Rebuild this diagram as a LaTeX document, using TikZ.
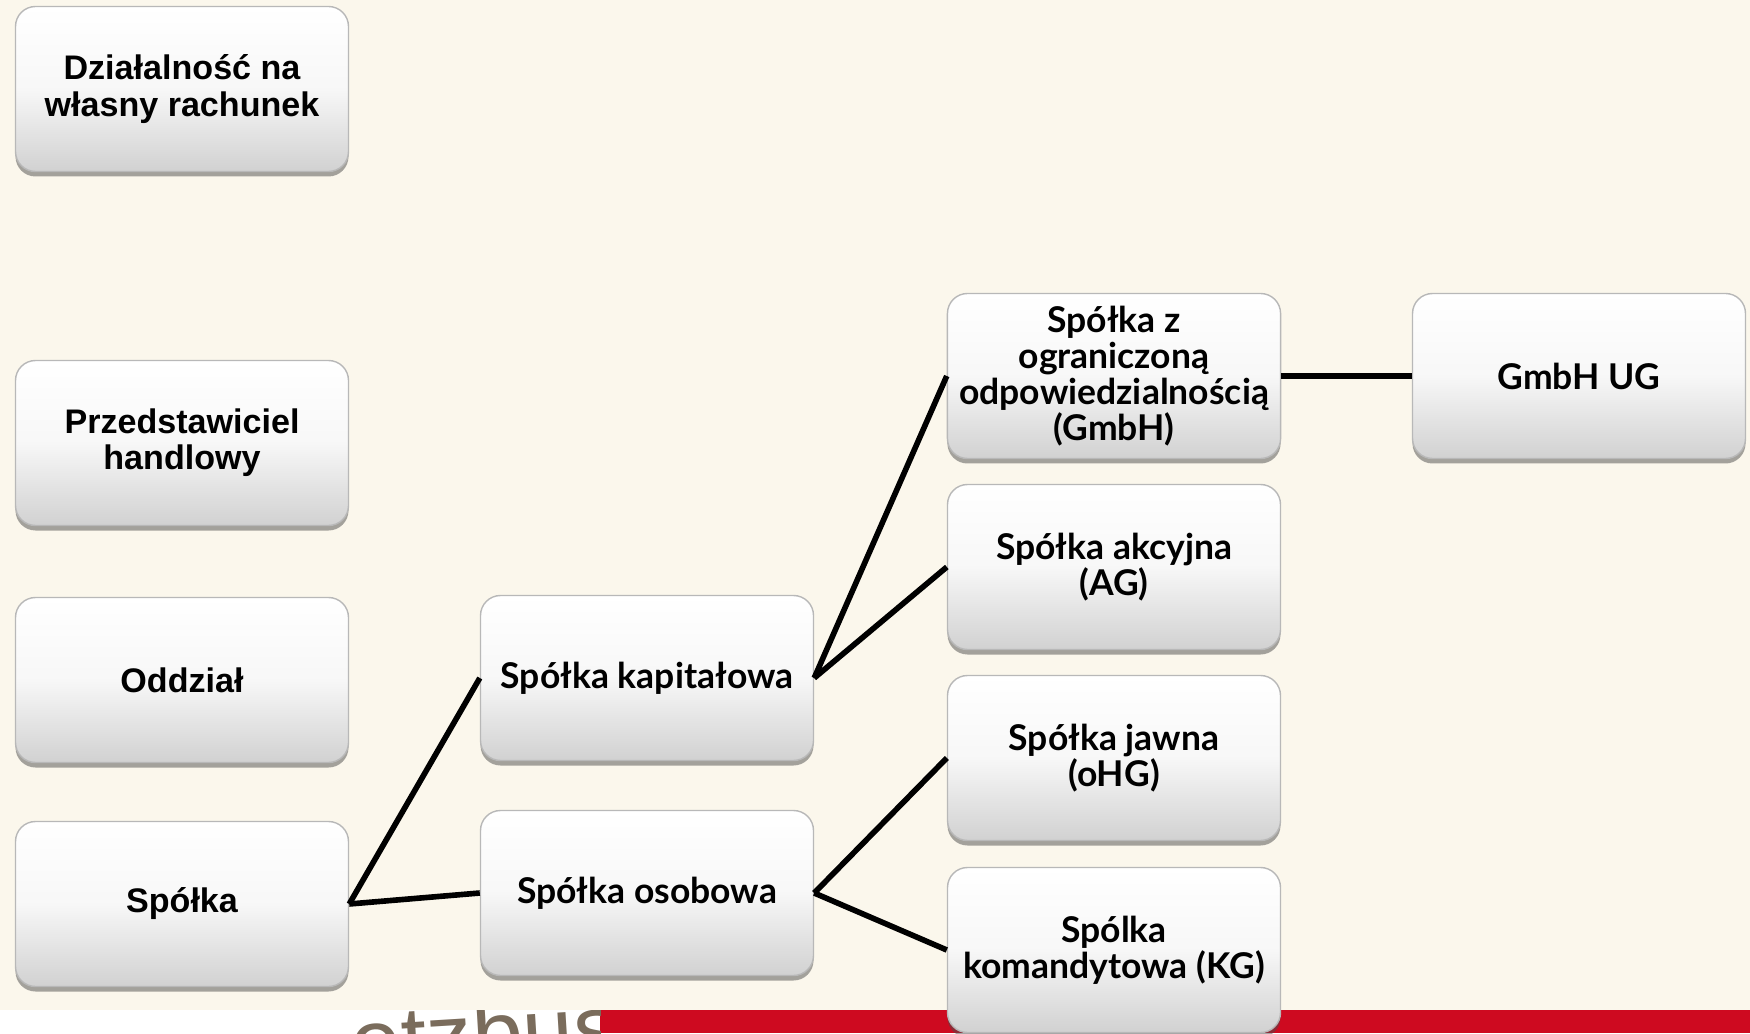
\documentclass[tikz,border=0pt]{standalone}
\usepackage{fontspec}
\setmainfont{Liberation Sans}
\newfontfamily\gillfont{Lato}
\usetikzlibrary{shadows}
\definecolor{cream}{RGB}{251,247,236}
\definecolor{barred}{RGB}{206,10,32}
\definecolor{logo}{RGB}{122,108,92}
\tikzstyle{box}=[rounded corners=.2cm, minimum width=3.33cm, minimum height=1.65cm, draw=black!28, line width=.4pt, top color=white, bottom color=black!18, middle color=black!3, align=center, drop shadow={shadow xshift=0cm, shadow yshift=-.05cm, opacity=.5, fill=black!70}, font=\fontsize{9.7}{10.3}\selectfont\bfseries]
\tikzstyle{gill}=[font=\gillfont\fontsize{10.1}{10.2}\selectfont\bfseries]
\tikzstyle{link}=[line width=1.6pt]

\begin{document}
\begin{tikzpicture}
  \useasboundingbox (0,0) rectangle (17.5,10.33);
  %% Slide background
  \fill[cream] (0,0) rectangle (17.5,10.33);
  \fill[white] (0,0) rectangle (6,0.23);
  \fill[barred] (6,0) rectangle (17.5,0.23);
  \begin{scope}
    \clip (0,0) rectangle (6,0.23);
    \draw (3.40,-0.42) node[anchor=base west,rotate=3.5,text=logo,font=\fontsize{26}{26}\selectfont] (logo) {etzbus};
  \end{scope}

  %% Forms of activity
  \draw (1.82,9.44) node[box] (dzial) {Działalność na\\własny rachunek};
  \draw (1.82,5.90) node[box] (przed) {Przedstawiciel\\handlowy};
  \draw (1.82,3.53) node[box] (oddz) {Oddział};
  \draw (1.82,1.29) node[box] (spolka) {Spółka};

  \draw (6.47,3.55) node[box,gill] (kapit) {Spółka kapitałowa};
  \draw (6.47,1.40) node[box,gill] (osob) {Spółka osobowa};

  \draw (11.14,6.57) node[box,gill] (gmbh) {Spółka z\\ograniczoną\\odpowiedzialnością\\(GmbH)};
  \draw (11.14,4.66) node[box,gill] (ag) {Spółka akcyjna\\(AG)};
  \draw (11.14,2.75) node[box,gill] (ohg) {Spółka jawna\\(oHG)};
  \draw (11.14,0.83) node[box,gill] (kg) {Spólka\\komandytowa (KG)};

  \draw (15.79,6.57) node[box,gill] (ug) {GmbH UG};

  %% Links
  \draw[link] (spolka.east) -- (kapit.west);
  \draw[link] (spolka.east) -- (osob.west);
  \draw[link] (kapit.east) -- (gmbh.west);
  \draw[link] (kapit.east) -- (ag.west);
  \draw[link] (osob.east) -- (ohg.west);
  \draw[link] (osob.east) -- (kg.west);
  \draw[link] (gmbh.east) -- (ug.west);
\end{tikzpicture}
\end{document}
